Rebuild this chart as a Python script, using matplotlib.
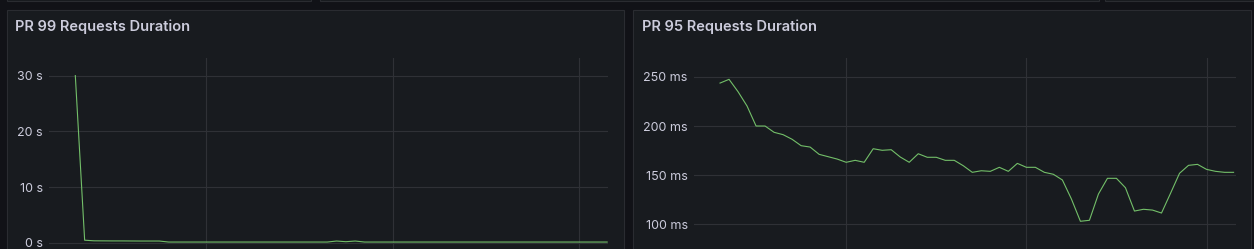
import matplotlib
matplotlib.use("Agg")
import matplotlib.pyplot as plt
import matplotlib.dates as mdates
from matplotlib.patches import Rectangle
from matplotlib.ticker import FuncFormatter, FixedLocator
import pandas as pd

# data
times = pd.date_range("2024-01-01 11:53:00", periods=58, freq="30s")

p99_seconds = [30.0, 0.45, 0.34, 0.33, 0.32, 0.32, 0.31, 0.3, 0.3, 0.3,
               0.12, 0.12, 0.12, 0.12, 0.12, 0.12, 0.12, 0.12, 0.12, 0.12,
               0.12, 0.12, 0.12, 0.12, 0.12, 0.12, 0.12, 0.12, 0.3, 0.18,
               0.3, 0.12, 0.12, 0.12, 0.12, 0.12, 0.12, 0.12, 0.12, 0.12,
               0.12, 0.12, 0.12, 0.12, 0.12, 0.12, 0.12, 0.12, 0.12, 0.12,
               0.12, 0.12, 0.12, 0.12, 0.12, 0.12, 0.12, 0.12]

p95_ms = [243.7, 247.5, 234.9, 220.3, 200, 200, 193.6, 191.2, 186.5, 180,
          178.6, 171.2, 168.8, 166.4, 163.1, 165.1, 163.1, 176.9, 175.3, 175.9,
          168.5, 163.1, 171.8, 168.2, 168.2, 165.1, 165.1, 159.6, 152.9, 154.5,
          153.9, 158, 153.9, 162, 158, 158, 152.9, 150.9, 145.1, 125.8,
          103.1, 104.1, 130.8, 146.8, 146.8, 137.2, 113.5, 115.3, 114.5, 111.5,
          131.5, 151.9, 160, 161, 155.9, 153.9, 152.9, 152.9]

p99_ticks = [0, 10, 20, 30]
p95_ticks = [100, 150, 200, 250]

W, H = 1254, 249
BG = "#111217"
PANEL = "#181b1f"
BORDER = "#2a2c31"
GRID = "#2f3136"
TEXT = "#ccccdc"
GREEN = "#73bf69"

plt.rcParams["font.family"] = ["Inter", "DejaVu Sans"]

fig = plt.figure(figsize=(W / 100, H / 100), dpi=100, facecolor=BG)


def frac_rect(x0, y0, x1, y1):
    # pixel box (top-left origin) -> figure fraction [l, b, w, h]
    return [x0 / W, 1 - y1 / H, (x1 - x0) / W, (y1 - y0) / H]


def add_panel(x0, y0, x1, y1):
    l, b, w, h = frac_rect(x0, y0, x1, y1)
    fig.patches.append(Rectangle((l, b), w, h, transform=fig.transFigure,
                                 facecolor=PANEL, edgecolor=BORDER,
                                 linewidth=0.8, zorder=-5))


# bits of the panels above
add_panel(7, -20, 311, 1.5)
add_panel(320, -20, 1099, 1.5)
add_panel(1105, -20, 1270, 1.5)

# the two panels
add_panel(6.5, 9.5, 624, 280)
add_panel(633, 9.5, 1251, 280)


def make_chart(box, values, ticks, unit, xlim_idx, ylim, title, title_x):
    ax = fig.add_axes(frac_rect(*box))
    ax.set_zorder(2)
    ax.set_facecolor("none")
    ax.plot(times, values, color=GREEN, linewidth=0.8, zorder=3)
    step = times[1] - times[0]
    ax.set_xlim(times[0] + xlim_idx[0] * step, times[0] + xlim_idx[1] * step)
    ax.set_ylim(*ylim)
    ax.yaxis.set_major_locator(FixedLocator(ticks))
    ax.yaxis.set_major_formatter(FuncFormatter(lambda v, p: f"{v:g} {unit}"))
    ax.xaxis.set_major_locator(mdates.MinuteLocator(byminute=range(0, 60, 10)))
    ax.grid(True, color=GRID, linewidth=0.8)
    ax.set_axisbelow(True)
    for s in ax.spines.values():
        s.set_visible(False)
    ax.tick_params(axis="both", length=0, labelbottom=False)
    ax.tick_params(axis="y", colors=TEXT, labelsize=9, pad=4.5)
    fig.text(title_x / W, 1 - 31 / H, title, color=TEXT, fontsize=10.5,
             fontweight=600, va="baseline", ha="left", zorder=3)
    return ax


make_chart((49, 58, 608, 249), p99_seconds, p99_ticks, "s",
           (-2.82, 57.09), (-1.13, 33.16), "PR 99 Requests Duration", 15)
make_chart((694, 58, 1236, 249), p95_ms, p95_ticks, "ms",
           (-2.89, 57.27), (74.9, 269.2), "PR 95 Requests Duration", 642)

fig.savefig("out.png", dpi=100, facecolor=BG)
